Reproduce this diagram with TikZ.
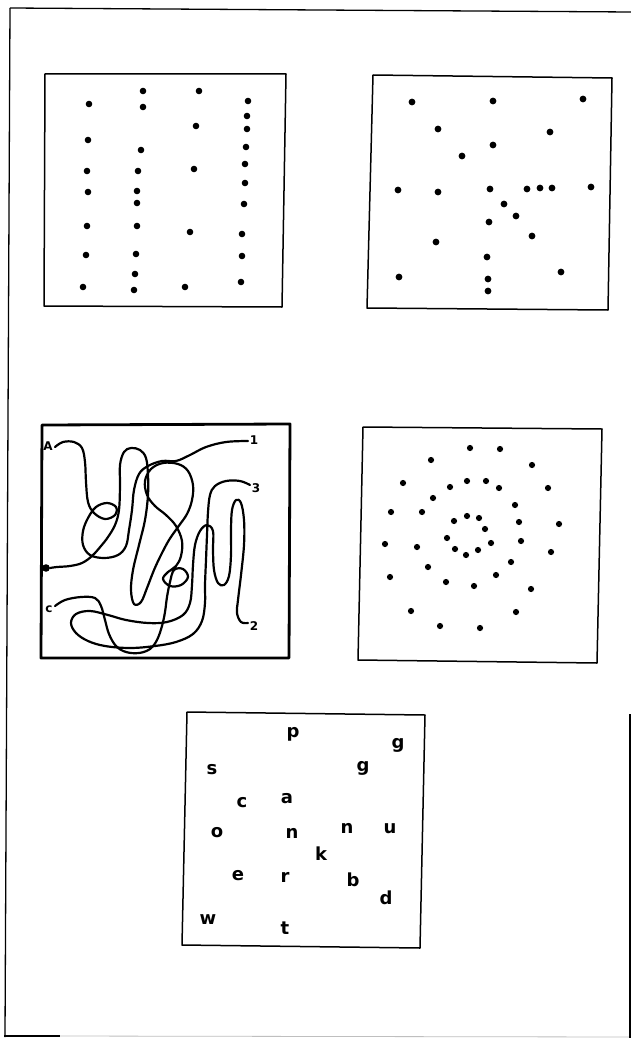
\documentclass[tikz,border=0pt]{standalone}
\usepackage{fontspec}
\setmainfont{DejaVu Sans}
\begin{document}
\begin{tikzpicture}[x=1pt,y=-1pt,
  frame/.style={line width=1.3pt},
  box/.style={line width=1.5pt, line join=round},
  thickbox/.style={line width=2.8pt, line join=round},
  strand/.style={line width=2.2pt, line cap=round, line join=round},
  letter/.style={font=\fontsize{18}{18}\selectfont\bfseries, inner sep=0pt},
  lab/.style={font=\fontsize{12}{12}\selectfont\bfseries, inner sep=0pt}]
\useasboundingbox (0,0) rectangle (631,1038);
\fill[white] (0,0) rectangle (631,1038);
% outer frame (partially visible)
\draw[frame] (10,8) -- (631,12);
\draw[frame] (10,8) -- (5,1037);
\draw[frame] (4,1036) -- (60,1036);
\draw[line width=0.8pt, black!25] (60,1036) -- (631,1037);
\draw[frame] (630,714) -- (630,1038);

% box 1: columns of dots
\draw[box] (45,74) -- (286,74) -- (282,307) -- (44,306) -- cycle;
\foreach \x/\y in {89/104,88/140,87/171,88/192,87/226,86/255,83/287,
  143/91,143/107,141/150,138/171,137/191,137/203,137/226,136/254,135/274,134/290,
  199/91,196/126,194/169,190/232,185/287,
  248/101,247/116,247/129,246/147,245/164,245/183,244/204,242/234,242/256,241/282}
  \fill (\x,\y) circle[radius=3.3pt];

% box 2: scattered dots
\draw[box] (373,75) -- (612,78) -- (608,310) -- (367,308) -- cycle;
\foreach \x/\y in {412/102,493/101,583/99,438/129,550/132,493/145,462/156,
  398/190,438/192,490/189,527/189,540/188,552/188,591/187,504/204,516/216,
  489/222,532/236,436/242,487/257,399/277,561/272,488/279,488/291}
  \fill (\x,\y) circle[radius=3.4pt];

% box 3: tangled strings
\draw[thickbox] (42,425) -- (290,424) -- (289,658) -- (41,658) -- cycle;
\draw[strand] plot[smooth, tension=0.6] coordinates {(55,447) (63,442) (74,442) (82,448) (85,462) (86,482) (88,502) (94,513) (105,519) (115,515) (116,507) (107,503) (96,507) (88,518) (83,531) (83,545) (90,555) (104,558) (118,555) (126,546) (129,530) (132,510) (134,490) (139,474) (148,466) (162,461) (176,461) (190,455) (206,447) (226,442) (248,441)};
\draw[strand] plot[smooth, tension=0.6] coordinates {(50,568) (57,567) (70,566) (82,563) (92,556) (101,546) (108,537) (115,525) (119,510) (120,485) (120,465) (124,452) (131,448) (140,450) (146,458) (148,475) (148,495) (145,520) (139,545) (133,570) (131,590) (134,604) (141,602) (147,588) (154,570) (161,555) (169,540) (178,527) (187,514) (192,500) (193,485) (188,471) (178,464) (163,463) (151,469) (145,481) (147,495) (155,506) (166,515) (176,526) (182,541) (181,556) (176,566) (168,572) (163,579) (170,586) (181,585) (188,577) (183,569) (174,570) (170,582) (167,597) (165,612) (162,626) (157,640) (150,649) (139,653) (126,652) (116,646) (109,634) (105,620) (101,606) (95,598) (81,597) (65,600) (55,606)};
\draw[strand] plot[smooth, tension=0.6] coordinates {(250,485) (240,481) (226,481) (215,486) (210,495) (208,512) (207,535) (206,560) (205,585) (205,603) (202,621) (193,634) (176,642) (155,646) (130,648) (105,646) (88,641) (76,633) (71,623) (76,614) (90,611) (108,615) (126,620) (148,623) (167,622) (183,615) (190,603) (192,585) (193,565) (195,545) (200,531) (207,525) (213,531) (213,550) (214,570) (218,583) (224,585) (229,576) (231,555) (231,530) (232,510) (236,500) (241,503) (244,520) (244,545) (241,575) (238,600) (237,613) (241,622) (248,623)};
\fill (46,568) circle[radius=3.8pt];
\node[lab] (labA) at (48,446) {A};
\node[lab] (lab1) at (254,440) {1};
\node[lab] (lab3) at (256,488) {3};
\node[lab] (lab2) at (254,626) {2};
\node[lab] (labC) at (49,609) {c};

% box 4: spiral of dots
\draw[box] (363,427) -- (602,429) -- (597,663) -- (358,660) -- cycle;
\foreach \x/\y in {470/448,500/449,431/460,532/465,403/483,467/481,486/481,450/487,
  499/488,548/488,433/498,515/505,391/512,422/512,467/516,479/518,454/521,519/522,
  559/524,485/529,447/538,491/543,521/541,385/544,417/547,455/549,478/550,466/555,
  551/552,511/562,428/567,496/575,390/577,446/582,474/586,531/589,411/611,516/612,
  440/626,480/628}
  \fill (\x,\y) circle[radius=3.1pt];

% box 5: letters
\draw[box] (187,712) -- (425,715) -- (420,948) -- (182,945) -- cycle;
\node[letter] (lp) at (293,734) {p};
\node[letter] (lg1) at (398,745) {g};
\node[letter] (ls) at (212,770) {s};
\node[letter] (lg2) at (363,768) {g};
\node[letter] (lc) at (242,803) {c};
\node[letter] (la) at (287,799) {a};
\node[letter] (lo) at (217,833) {o};
\node[letter] (ln1) at (292,833) {n};
\node[letter] (ln2) at (347,828) {n};
\node[letter] (lu) at (390,829) {u};
\node[letter] (lk) at (321,854) {k};
\node[letter] (le) at (238,876) {e};
\node[letter] (lr) at (285,877) {r};
\node[letter] (lb) at (353,880) {b};
\node[letter] (ld) at (386,898) {d};
\node[letter] (lw) at (208,920) {w};
\node[letter] (lt) at (285,928) {t};
\end{tikzpicture}
\end{document}
